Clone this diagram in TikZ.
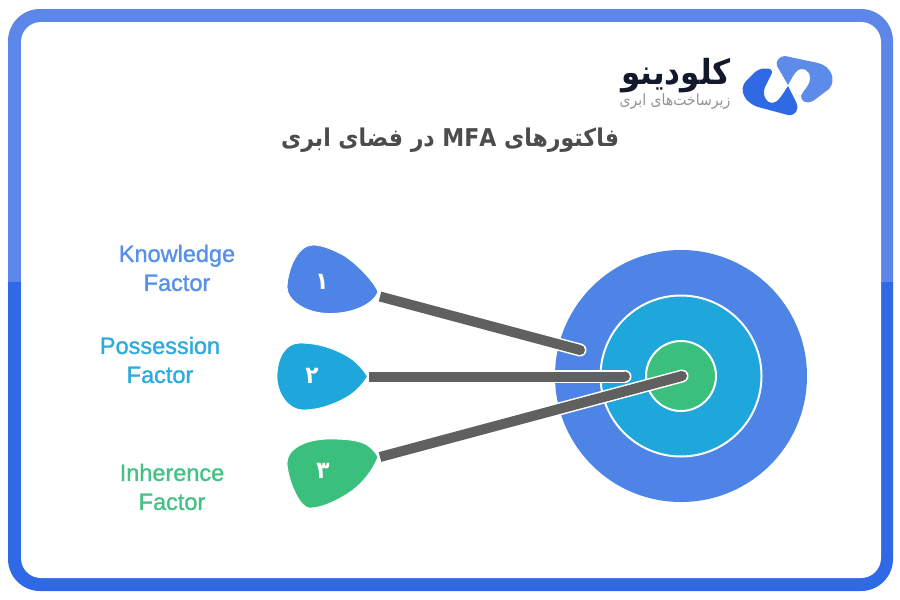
\documentclass[tikz,border=0pt]{standalone}
\usepackage{fontspec}
\setmainfont{Liberation Sans}
\newfontfamily\farsi[Script=Arabic]{DejaVu Sans Condensed}
\TeXXeTstate=1
\definecolor{frametop}{HTML}{5C87E9}
\definecolor{framebot}{HTML}{3069E5}
\definecolor{cblue}{HTML}{4D84E5}
\definecolor{ccyan}{HTML}{1FA7DC}
\definecolor{cgreen}{HTML}{3BBF7D}
\definecolor{barc}{HTML}{606060}
\definecolor{lblblue}{HTML}{5590EC}
\definecolor{lblcyan}{HTML}{2BACDC}
\definecolor{lblgreen}{HTML}{44C285}
\definecolor{logodark}{HTML}{2F69E4}
\definecolor{logolight}{HTML}{5C8BEA}
\definecolor{brandc}{HTML}{14182B}
\tikzset{
  lbl/.style={font=\addfontfeature{FakeBold=1.2}\fontsize{23.5}{29}\selectfont, align=center, inner sep=0pt},
  digit/.style={font=\farsi\bfseries\fontsize{24}{24}\selectfont, text=white, inner sep=0pt},
  ring/.style={draw=white, line width=2pt},
  pick/.style={draw=white, line width=0.8pt},
}
\newcommand{\connector}[2]{%
  \draw[draw=white,line width=13pt] (#1) -- (#2);
  \fill[white] (#2) circle (6.5);
  \draw[draw=barc,line width=10pt] (#1) -- (#2);
  \fill[barc] (#2) circle (5);
}
\begin{document}
\begin{tikzpicture}[x=1pt,y=-1pt]
\useasboundingbox (0,0) rectangle (900,600);
\fill[white] (0,0) rectangle (900,600);
% frame
\begin{scope}
  \clip (0,0) rectangle (900,282);
  \fill[frametop,rounded corners=32pt] (8,9) rectangle (893,591);
\end{scope}
\begin{scope}
  \clip (0,282) rectangle (900,600);
  \fill[framebot,rounded corners=32pt] (8,9) rectangle (893,591);
\end{scope}
\fill[white,rounded corners=20pt] (21,22) rectangle (881,578);
% logo
\fill[logolight] (785,56) -- (818,63) .. controls (831,66) and (837,80) .. (829,89)
  -- (813,101) .. controls (807,104) and (801,102) .. (801,96)
  .. controls (802,91) and (810,87) .. (810,78) .. controls (810,70) and (803,67) .. (798,70)
  .. controls (794,73) and (791,80) .. (788,85) -- (777,66)
  .. controls (775,61) and (780,56) .. (785,56) -- cycle;
\fill[logodark] (763,68.5) -- (768,68.5) .. controls (772,69) and (773,72) .. (771,75)
  -- (765,87) .. controls (762,95) and (766,103) .. (772,103)
  .. controls (778,103) and (782,95) .. (788,86) -- (796,102)
  .. controls (800,110) and (795,116) .. (788,115) -- (758,107)
  .. controls (745,103) and (738,90) .. (746,81) -- (755,72)
  .. controls (758,70) and (760,69) .. (763,68.5) -- cycle;
\node[inner sep=0pt, text=brandc, font=\farsi\bfseries\fontsize{34.5}{34.5}\selectfont] (brand) at (676,76) {\beginR کلودینو\endR};
\node[inner sep=0pt, text=black!42, font=\farsi\fontsize{15.6}{15.6}\selectfont] (sub) at (675,101) {\beginR زیرساخت‌های ابری\endR};
% title
\node[inner sep=0pt, text=black!70, font=\farsi\bfseries\fontsize{24.5}{24.5}\selectfont] (title) at (450,140.5) {\beginR فاکتورهای \beginL MFA\endL{} در فضای ابری\endR};
% target
\coordinate (c) at (681,376);
\fill[cblue] (c) circle (126);
\filldraw[fill=ccyan,ring] (c) circle (80.5);
\filldraw[fill=cgreen,ring] (c) circle (35);
% connector ends
\coordinate (t1) at (380,296.5);
\coordinate (t2) at (368.5,376.5);
\coordinate (t3) at (380,457);
\coordinate (e1) at (580,350);
\coordinate (e2) at (625,376.5);
\coordinate (e3) at (682,376);
\connector{t1}{e1}
\connector{t2}{e2}
\connector{t3}{e3}
% picks
\filldraw[fill=cblue,pick] (378,292) .. controls (374,281) and (355,262) .. (343,255)
  .. controls (330,248) and (320,245) .. (313,245)
  .. controls (298,245) and (288,268) .. (287,287) .. controls (287,300) and (305,313.5) .. (330,313.5)
  .. controls (350,313.5) and (372,306) .. (378,292) -- cycle;
\filldraw[fill=ccyan,pick] (367.5,376.5) .. controls (362,368) and (358,364) .. (353,360)
  .. controls (345,354) and (325,343) .. (300,343) .. controls (285,343) and (277,358) .. (277,377)
  .. controls (277,393) and (288,410) .. (303,410) .. controls (325,410) and (345,399) .. (353,393)
  .. controls (358,389) and (362,385) .. (367.5,376.5) -- cycle;
\filldraw[fill=cgreen,pick] (378,457) .. controls (375,451) and (370,447) .. (367,445)
  .. controls (360,441) and (350,439) .. (330,439) .. controls (305,439) and (287,449) .. (287,463)
  .. controls (287,475) and (298,508) .. (310,508) .. controls (325,508) and (345,496) .. (353,490)
  .. controls (362,483) and (372,472) .. (378,457) -- cycle;
\node[digit] (d1) at (322,282) {\beginR ۱\endR};
\node[digit] (d2) at (312,376) {\beginR ۲\endR};
\node[digit] (d3) at (323,471) {\beginR ۳\endR};
% labels
\node[lbl,text=lblblue] (l1) at (177,268) {Knowledge\\Factor};
\node[lbl,text=lblcyan] (l2) at (160,360) {Possession\\Factor};
\node[lbl,text=lblgreen] (l3) at (172,487) {Inherence\\Factor};
\end{tikzpicture}
\end{document}
